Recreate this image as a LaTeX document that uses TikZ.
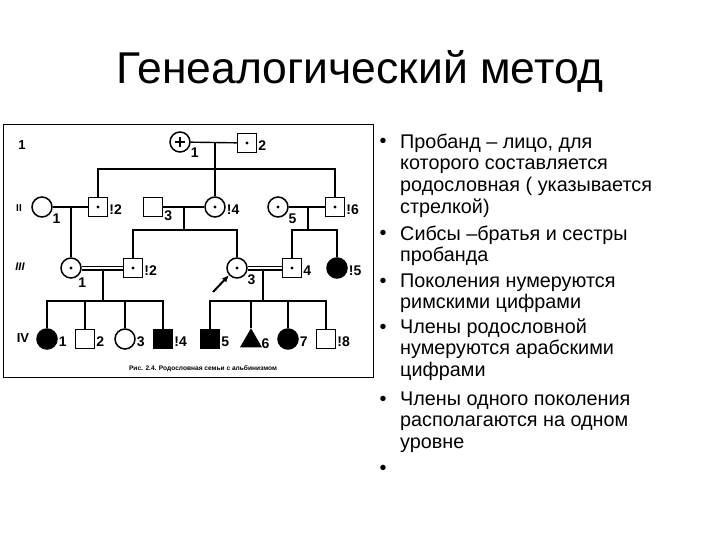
\documentclass[tikz,border=0pt]{standalone}
\usepackage{fontspec}
\setmainfont{Liberation Sans}
\usetikzlibrary{arrows.meta,shapes.geometric}

\begin{document}
\begin{tikzpicture}[
  x=1pt, y=-1pt,
  ln/.style={line width=1.4pt},
  sq/.style={draw, rectangle, line width=1.5pt, minimum size=19pt, inner sep=0pt},
  ci/.style={draw, circle, line width=1.5pt, minimum size=20pt, inner sep=0pt},
  tri/.style={draw, regular polygon, regular polygon sides=3, line width=1.2pt, minimum size=23pt, inner sep=0pt, fill=black},
  aff/.style={fill=black},
  car/.style={path picture={\fill (path picture bounding box.center) circle (1.6pt);}},
  plus/.style={path picture={\draw[line width=1.5pt] (path picture bounding box.center) +(-5,0) -- +(5,0) +(0,-5) -- +(0,5);}},
  lbl/.style={font=\fontsize{14}{14}\bfseries\selectfont, inner sep=1pt},
  lble/.style={lbl, yshift=-3pt},
  gen/.style={font=\fontsize{13}{13}\bfseries\selectfont, inner sep=0pt},
  dbl/.style={double, double distance=2.6pt, line width=1.2pt},
  prob/.style={-{Latex[length=7pt,width=6pt]}, line width=2pt},
  item/.style={anchor=north west, align=left, inner sep=0pt, font=\fontsize{19.8}{21.6}\selectfont},
  bul/.style={anchor=base, inner sep=0pt, font=\fontsize{19.8}{21.6}\selectfont}
]
\useasboundingbox (0,0) rectangle (720,540);
\fill[white] (0,0) rectangle (720,540);

% title
\node[anchor=base, inner sep=0pt, font=\fontsize{44.5}{50}\selectfont] (title) at (360,84) {Генеалогический метод};

% frame of the figure
\draw[line width=0.8pt] (3,124) rectangle (373,377);
\node[font=\fontsize{6.6}{7}\bfseries\selectfont, inner sep=0pt] (cap) at (203,369) {Рис. 2.4. Родословная семьи с альбинизмом};

% generations
\node[gen] (gI)   at (22,145)  {1};
\node[gen, font=\fontsize{10}{10}\bfseries\selectfont] (gII)  at (19,208) {II};
\node[gen, font=\fontsize{11}{11}\bfseries\itshape\selectfont] (gIII) at (20,267) {III};
\node[gen] (gIV)  at (23,338)  {IV};

% generation I
\node[ci, plus, label={[lbl]-25:1}] (I1) at (180,142) {};
\node[sq, car, label={[lble]east:2}] (I2) at (247,143) {};
\coordinate (m1) at (215,143);
\coordinate (s1) at (215,169);

% generation II
\node[ci, label={[lbl]-30:1}]          (II1) at (42,207)  {};
\node[sq, car, label={[lble]east:!2}]  (II2) at (98,207)  {};
\node[sq, label={[lbl]-15:3}]          (II3) at (153,207) {};
\node[ci, car, label={[lble]east:!4}]  (II4) at (215,207) {};
\node[ci, car, label={[lbl]-30:5}]     (II5) at (278,207) {};
\node[sq, car, label={[lble]east:!6}]  (II6) at (335,207) {};
\coordinate (m2) at (71,207);
\coordinate (m3) at (184,207);
\coordinate (s3) at (184,230);
\coordinate (m4) at (308,207);
\coordinate (s4) at (308,230);

% generation III
\node[ci, car, label={[lbl]-55:1}]     (III1) at (71,268)  {};
\node[sq, car, label={[lble]east:!2}]  (III2) at (133,268) {};
\node[ci, car, label={[lbl]-30:3}]     (III3) at (237,268) {};
\node[sq, car, label={[lble]east:4}]   (III4) at (292,268) {};
\node[ci, aff, label={[lble]east:!5}]  (III5) at (337,268) {};
\coordinate (m5) at (103,270);
\coordinate (s5) at (103,301);
\coordinate (m6) at (263,270);
\coordinate (s6) at (263,301);
\coordinate (pa) at (213,292);

% generation IV
\node[ci, aff, label={[lble]east:1}]   (IV1) at (47,339)  {};
\node[sq, label={[lble]east:2}]        (IV2) at (85,339)  {};
\node[ci, label={[lble]east:3}]        (IV3) at (125,339) {};
\node[sq, aff, label={[lble]east:!4}]  (IV4) at (163,339) {};
\node[sq, aff, label={[lble]east:5}]   (IV5) at (210,339) {};
\node[tri, label={[lble, xshift=2pt]east:6}] (IV6) at (251,341) {};
\node[ci, aff, label={[lble]east:7}]   (IV7) at (288,339) {};
\node[sq, label={[lble]east:!8}]       (IV8) at (326,339) {};

% marriages and sibships
\draw[ln] (I1) -- (I2);
\draw[ln] (m1) -- (m1 |- II4.north);
\draw[ln] (II2) |- (s1) -| (II6);

\draw[ln] (II1) -- (II2);
\draw[ln] (m2) -- (III1);
\draw[ln] (II3) -- (II4);
\draw[ln] (m3) -- (s3);
\draw[ln] (III2) |- (s3) -| (III3);
\draw[ln] (II5) -- (II6);
\draw[ln] (m4) -- (s4);
\draw[ln] (III4) |- (s4) -| (III5);

\draw[dbl] (III1) -- (III2);
\draw[ln] (m5) -- (s5);
\draw[ln] (IV1) |- (s5) -| (IV4);
\draw[ln] (IV2) -- (IV2 |- s5);
\draw[ln] (IV3) -- (IV3 |- s5);
\draw[dbl] (III3) -- (III4);
\draw[ln] (m6) -- (s6);
\draw[ln] (IV5) |- (s6) -| (IV8);
\draw[ln] (IV6.north) -- (IV6 |- s6);
\draw[ln] (IV7) -- (IV7 |- s6);

% proband
\draw[prob] (pa) -- (III3.222);

% text column
\node[bul] (b1) at (383,148) {•};
\node[item] (t1) at (400,132.9) {\strut Пробанд – лицо, для\\которого составляется\\родословная ( указывается\\стрелкой)};
\node[bul] (b2) at (383,240) {•};
\node[item] (t2) at (400,224.9) {\strut Сибсы –братья и сестры\\пробанда};
\node[bul] (b3) at (383,287) {•};
\node[item] (t3) at (400,271.9) {\strut Поколения нумеруются\\римскими цифрами};
\node[bul] (b4) at (383,333) {•};
\node[item] (t4) at (400,317.9) {\strut Члены родословной\\нумеруются арабскими\\цифрами};
\node[bul] (b5) at (383,405) {•};
\node[item] (t5) at (400,389.9) {\strut Члены одного поколения\\располагаются на одном\\уровне};
\node[bul] (b6) at (383,474) {•};
\end{tikzpicture}
\end{document}
